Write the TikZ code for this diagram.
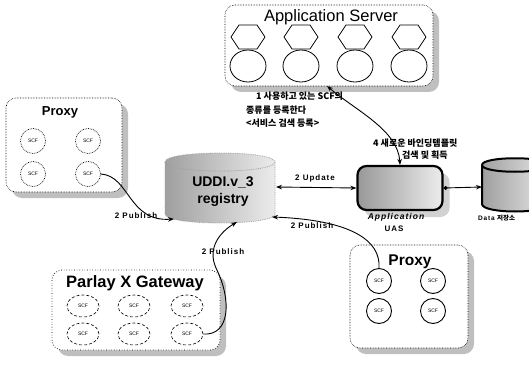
\documentclass[tikz,border=0pt]{standalone}
\usepackage{fontspec}
\setmainfont{Liberation Sans}
\newfontfamily\kr{Noto Sans CJK KR}
\newfontfamily\lbl{Liberation Sans}[LetterSpace=12]
\usetikzlibrary{shadows,arrows.meta,shapes.geometric}

\begin{document}
\begin{tikzpicture}[x=1pt,y=-1pt,
  panel/.style={draw, densely dotted, line width=0.6pt, rounded corners=10pt,
    fill=white, inner sep=0pt,
    general shadow={fill=gray!50, shadow xshift=6pt, shadow yshift=-6pt}},
  title/.style={font=\bfseries\fontsize{14}{14}\selectfont, inner sep=0pt},
  scf/.style={circle, draw, line width=0.7pt, minimum size=25pt, inner sep=0pt,
    font=\fontsize{5}{5}\selectfont},
  pscf/.style={ellipse, draw, densely dashed, line width=0.6pt, minimum width=32pt,
    minimum height=22pt, inner sep=0pt, font=\fontsize{5}{5}\selectfont},
  arr/.style={line width=0.9pt, -{Stealth[length=6pt,width=4.5pt]}},
  biarr/.style={line width=0.9pt, {Stealth[length=6pt,width=4.5pt]}-{Stealth[length=6pt,width=4.5pt]}},
  lab/.style={font=\lbl\bfseries\fontsize{8}{8}\selectfont, inner sep=0pt},
  krlab/.style={font=\kr\bfseries\fontsize{9}{9}\selectfont, inner sep=0pt, anchor=west},
]
\useasboundingbox (0,0) rectangle (529,366);

% ---------- Application Server ----------
\node[panel, minimum width=208pt, minimum height=81pt] (appsrv) at (329,45.5) {};
\node[font=\fontsize{16.5}{16.5}\selectfont, inner sep=0pt] (apptitle) at (331,17) {Application Server};
\foreach \x in {248,301,355,409} {
  \draw[line width=0.8pt] (\x-17,37) -- (\x-9,25) -- (\x+9,25) -- (\x+17,37)
        -- (\x+9,49) -- (\x-9,49) -- cycle;
  \draw[line width=0.8pt] (\x,66) ellipse [x radius=18pt, y radius=16pt];
}

% ---------- left Proxy ----------
\node[panel, minimum width=116pt, minimum height=94pt] (lproxy) at (64,145) {};
\node[title, font=\bfseries\fontsize{13}{13}\selectfont] (lptitle) at (60,112) {Proxy};
\node[scf, densely dotted] (lscf1) at (33,141) {SCF};
\node[scf, densely dotted] (lscf2) at (88,141) {SCF};
\node[scf, densely dotted] (lscf3) at (33,174) {SCF};
\node[scf, densely dotted] (lscf4) at (88,174) {SCF};

% ---------- right Proxy ----------
\node[panel, minimum width=118pt, minimum height=103pt] (rproxy) at (409,296.5) {};
\node[title, font=\bfseries\fontsize{15.5}{15.5}\selectfont] (rptitle) at (410,262) {Proxy};
\node[scf, line width=0.9pt] (rscf1) at (379,281) {SCF};
\node[scf, line width=0.9pt] (rscf2) at (433,281) {SCF};
\node[scf, line width=0.9pt] (rscf3) at (379,311) {SCF};
\node[scf, line width=0.9pt] (rscf4) at (433,311) {SCF};

% ---------- Parlay X Gateway ----------
\node[panel, dotted, line width=0.8pt, minimum width=168pt, minimum height=80pt] (parlay) at (136,310) {};
\node[title, font=\bfseries\fontsize{16.5}{16.5}\selectfont] (pxtitle) at (135,283) {Parlay X Gateway};
\node[pscf] (pscf1) at (83,306) {SCF};
\node[pscf] (pscf2) at (134,306) {SCF};
\node[pscf] (pscf3) at (187,306) {SCF};
\node[pscf] (pscf4) at (83,334) {SCF};
\node[pscf] (pscf5) at (134,334) {SCF};
\node[pscf] (pscf6) at (187,334) {SCF};

% ---------- UDDI registry cylinder ----------
\shadedraw[left color=gray!75, right color=gray!15, draw=gray!75, densely dotted, line width=0.8pt]
  (165,162) -- (165,214) .. controls (165,226) and (275,226) .. (275,214)
  -- (275,162) .. controls (275,150) and (165,150) .. (165,162) -- cycle;
\draw[gray!75, densely dotted, line width=0.8pt] (165,162) .. controls (165,174) and (275,174) .. (275,162);
\node[font=\bfseries\fontsize{14}{17}\selectfont, align=center, inner sep=0pt] (uddi) at (223,192) {UDDI.v\_3\\registry};
\coordinate (uddiR) at (276,187);
\coordinate (uddiBL) at (174,219);
\coordinate (uddiB) at (237,222);
\coordinate (uddiBR) at (272,217);

% ---------- Application UAS ----------
\node[draw, line width=2.2pt, rounded corners=9pt, minimum width=85pt, minimum height=44pt,
  left color=gray!80, right color=gray!15,
  general shadow={fill=gray!35, shadow xshift=7pt, shadow yshift=-7pt}] (uas) at (400,188) {};
\node[lab, font=\lbl\bfseries\itshape\fontsize{8.5}{8.5}\selectfont] (uasl1) at (396,217) {Application};
\node[lab] (uasl2) at (394,229) {UAS};

% ---------- Data store cylinder ----------
\shadedraw[left color=gray!75, right color=gray!20, line width=2pt]
  (482,165) -- (482,204) .. controls (482,214) and (548,214) .. (548,204)
  -- (548,165) .. controls (548,156) and (482,156) .. (482,165) -- cycle;
\draw[line width=2pt] (482,165) .. controls (482,174) and (548,174) .. (548,165);
\coordinate (dataL) at (482,187);
\node[lab, anchor=west, font=\lbl\bfseries\fontsize{6.5}{6.5}\selectfont] (datalbl) at (478,218) {Data {\kr\bfseries 저장소}};

% ---------- connectors ----------
\coordinate (appA) at (327,86);
\draw[biarr] (uas.north) .. controls (398,130) and (355,110) .. (appA);
\draw[biarr] (uddiR) -- (uas.west);
\draw[line width=0.9pt, {Circle[length=4pt]}-{Stealth[length=6pt,width=4.5pt]}] (uas.east) -- (dataL);
\draw[arr] (lscf4.east) .. controls (130,176) and (128,222) .. (uddiBL);
\draw[arr] (pscf6.east) .. controls (230,336) and (232,300) .. (216,268)
  .. controls (207,248) and (220,232) .. (uddiB);
\draw[arr] (rscf1.north) .. controls (381,240) and (350,220) .. (uddiBR);

% ---------- labels ----------
\node[lab] (pub1) at (136,216) {2 Publish};
\node[lab] (pub2) at (223,252) {2 Publish};
\node[lab] (pub3) at (312,226) {2 Publish};
\node[lab] (upd) at (315,178) {2 Update};
\node[krlab] (n1a) at (256,96) {1 사용하고 있는 SCF의};
\node[krlab] (n1b) at (246,110) {종류를 등록한다};
\node[krlab] (n1c) at (246,123) {<서비스 검색 등록>};
\node[krlab] (n4a) at (373,143) {4 새로운 바인딩템플릿};
\node[krlab] (n4b) at (402,155) {검색 및 획득};
\end{tikzpicture}
\end{document}
